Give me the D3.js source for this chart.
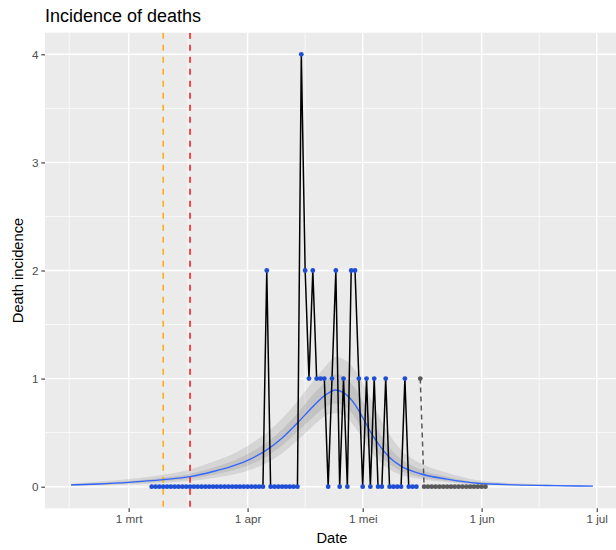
<!DOCTYPE html>
<html>
<head>
<meta charset="utf-8">
<script src="https://cdn.jsdelivr.net/npm/d3@7"></script>
<style>
  body { margin: 0; background: #fff; }
  svg { display: block; font-family: "Liberation Sans", Arial, sans-serif; }
</style>
</head>
<body>
<div id="chart"></div>
<script>
// daily deaths, one value per day from the start date
const observedStart = "2020-03-07";
const observedDeaths = [
  0,0,0,0,0,0,0,0,0,0,0,0,0,0,0,0,0,0,0,0,0,0,0,0,0,     // 7-31 mrt
  0,0,0,0,0,2,0,0,0,0,0,0,0,0,                           // 1-14 apr
  4,2,1,2,1,1,1,0,1,2,0,1,0,2,2,1,                       // 15-30 apr
  0,1,0,1,0,0,1,0,0,0,0,1,0,0,0                          // 1-15 mei
];
const projectedStart = "2020-05-16";
const projectedDeaths = [1,0,0,0,0,0,0,0,0,0,0,0,0,0,0,0,0,0];

// fitted curve with inner and outer bands
const fitDates = ["2020-02-15","2020-02-22","2020-03-01","2020-03-10","2020-03-17","2020-03-23",
  "2020-03-28","2020-04-02","2020-04-06","2020-04-10","2020-04-14","2020-04-18","2020-04-21",
  "2020-04-24","2020-04-26","2020-04-29","2020-05-01","2020-05-03","2020-05-05","2020-05-08",
  "2020-05-11","2020-05-16","2020-05-23","2020-05-31","2020-06-10","2020-06-20","2020-06-30"];
const fitMid     = [0.016,0.025,0.04,0.065,0.093,0.14,0.19,0.26,0.34,0.45,0.59,0.74,0.84,0.895,0.87,0.76,0.64,0.51,0.40,0.27,0.19,0.12,0.07,0.032,0.017,0.01,0.005];
const fitInnerLo = [0.011,0.018,0.03,0.05,0.073,0.11,0.15,0.21,0.28,0.38,0.51,0.64,0.73,0.77,0.75,0.64,0.52,0.41,0.31,0.21,0.145,0.09,0.053,0.024,0.013,0.007,0.004];
const fitInnerHi = [0.022,0.033,0.052,0.083,0.118,0.175,0.235,0.32,0.41,0.53,0.68,0.85,0.96,1.04,1.02,0.91,0.79,0.65,0.52,0.36,0.255,0.16,0.093,0.043,0.023,0.013,0.007];
const fitOuterLo = [0.007,0.012,0.02,0.035,0.052,0.08,0.11,0.16,0.22,0.31,0.43,0.56,0.65,0.68,0.66,0.55,0.44,0.33,0.25,0.16,0.11,0.07,0.04,0.018,0.009,0.005,0.002];
const fitOuterHi = [0.03,0.045,0.07,0.11,0.16,0.23,0.3,0.4,0.5,0.63,0.79,0.97,1.1,1.2,1.18,1.08,0.96,0.82,0.67,0.48,0.34,0.22,0.13,0.06,0.032,0.019,0.01];

const markerDates = ["2020-03-10", "2020-03-17"];
const markerColors = ["#FFA500", "#FF0000"];

const xTickDates = ["2020-03-01","2020-04-01","2020-05-01","2020-06-01","2020-07-01"];
const xTickLabels = ["1 mrt","1 apr","1 mei","1 jun","1 jul"];
const xMinorDates = ["2020-02-14T12:00","2020-03-16T12:00","2020-04-16T00:00","2020-05-16T12:00","2020-06-16T00:00"];
const yTicks = [0, 1, 2, 3, 4];
const yMinor = [0.5, 1.5, 2.5, 3.5];

const width = 616, height = 550;
const panel = { left: 45, right: 619, top: 32.7, bottom: 508.3 };

const parse = d3.utcParse("%Y-%m-%d");
const parseT = d3.utcParse("%Y-%m-%dT%H:%M");

const observed = observedDeaths.map((v, i) => ({ date: d3.utcDay.offset(parse(observedStart), i), v }));
const projected = projectedDeaths.map((v, i) => ({ date: d3.utcDay.offset(parse(projectedStart), i), v }));
const fit = fitDates.map((d, i) => ({
  date: parse(d), mid: fitMid[i],
  iLo: fitInnerLo[i], iHi: fitInnerHi[i], oLo: fitOuterLo[i], oHi: fitOuterHi[i]
}));

// ggplot style 5% expansion
const xExt = d3.extent(fit, d => d.date);
const xPad = (xExt[1] - xExt[0]) * 0.05;
const x = d3.scaleUtc()
  .domain([new Date(+xExt[0] - xPad), new Date(+xExt[1] + xPad)])
  .range([panel.left, panel.right]);
const y = d3.scaleLinear()
  .domain([-0.2, 4.2])
  .range([panel.bottom, panel.top]);

const svg = d3.select("#chart").append("svg")
  .attr("width", width)
  .attr("height", height);

svg.append("defs").append("clipPath").attr("id", "clip")
  .append("rect")
  .attr("x", panel.left).attr("y", panel.top)
  .attr("width", panel.right - panel.left).attr("height", panel.bottom - panel.top);

svg.append("rect")
  .attr("x", panel.left).attr("y", panel.top)
  .attr("width", panel.right - panel.left).attr("height", panel.bottom - panel.top)
  .attr("fill", "#EBEBEB");

const g = svg.append("g").attr("clip-path", "url(#clip)");

// grid
g.selectAll(".ymin").data(yMinor).enter().append("line")
  .attr("x1", panel.left).attr("x2", panel.right)
  .attr("y1", d => y(d)).attr("y2", d => y(d))
  .attr("stroke", "#fff").attr("stroke-width", 0.7);
g.selectAll(".xmin").data(xMinorDates).enter().append("line")
  .attr("x1", d => x(parseT(d))).attr("x2", d => x(parseT(d)))
  .attr("y1", panel.top).attr("y2", panel.bottom)
  .attr("stroke", "#fff").attr("stroke-width", 0.7);
g.selectAll(".ymaj").data(yTicks).enter().append("line")
  .attr("x1", panel.left).attr("x2", panel.right)
  .attr("y1", d => y(d)).attr("y2", d => y(d))
  .attr("stroke", "#fff").attr("stroke-width", 1.4);
g.selectAll(".xmaj").data(xTickDates).enter().append("line")
  .attr("x1", d => x(parse(d))).attr("x2", d => x(parse(d)))
  .attr("y1", panel.top).attr("y2", panel.bottom)
  .attr("stroke", "#fff").attr("stroke-width", 1.4);

// bands
const band = (lo, hi) => d3.area()
  .curve(d3.curveMonotoneX)
  .x(d => x(d.date)).y0(d => y(d[lo])).y1(d => y(d[hi]));
g.append("path").datum(fit).attr("d", band("oLo", "oHi"))
  .attr("fill", "#7F7F7F").attr("fill-opacity", 0.2);
g.append("path").datum(fit).attr("d", band("iLo", "iHi"))
  .attr("fill", "#7F7F7F").attr("fill-opacity", 0.2);

// vertical markers
g.selectAll(".marker").data(markerDates).enter().append("line")
  .attr("x1", d => x(parse(d))).attr("x2", d => x(parse(d)))
  .attr("y1", panel.top).attr("y2", panel.bottom)
  .attr("stroke", (d, i) => markerColors[i])
  .attr("stroke-width", 1.4)
  .attr("stroke-dasharray", "6,6");

// fitted curve
g.append("path").datum(fit)
  .attr("d", d3.line().curve(d3.curveMonotoneX).x(d => x(d.date)).y(d => y(d.mid)))
  .attr("fill", "none").attr("stroke", "#3366FF").attr("stroke-width", 1.4);

// observed
const line = d3.line().x(d => x(d.date)).y(d => y(d.v));
g.append("path").datum(observed).attr("d", line)
  .attr("fill", "none").attr("stroke", "#000").attr("stroke-width", 1.5)
  .attr("stroke-linejoin", "round");
g.append("path").datum(projected).attr("d", line)
  .attr("fill", "none").attr("stroke", "#555").attr("stroke-width", 1.5)
  .attr("stroke-dasharray", "5,4");

g.selectAll(".obs").data(observed).enter().append("circle")
  .attr("cx", d => x(d.date)).attr("cy", d => y(d.v)).attr("r", 2.4)
  .attr("fill", "#1F4ED6");
g.selectAll(".proj").data(projected).enter().append("circle")
  .attr("cx", d => x(d.date)).attr("cy", d => y(d.v)).attr("r", 2.4)
  .attr("fill", "#595959");

// axes
const yAxis = svg.append("g").attr("transform", `translate(${panel.left},0)`)
  .call(d3.axisLeft(y).tickValues(yTicks).tickFormat(d3.format("d"))
    .tickSize(3.7).tickPadding(2.9));
const xAxis = svg.append("g").attr("transform", `translate(0,${panel.bottom})`)
  .call(d3.axisBottom(x).tickValues(xTickDates.map(parse))
    .tickFormat((d, i) => xTickLabels[i]).tickSize(3.7).tickPadding(2.9));
[xAxis, yAxis].forEach(a => {
  a.select(".domain").remove();
  a.selectAll(".tick line").attr("stroke", "#333").attr("stroke-width", 1.1);
  a.selectAll(".tick text").attr("fill", "#4D4D4D")
    .style("font-size", "11.7px").style("font-family", "Liberation Sans, Arial, sans-serif");
});

// titles
svg.append("text").attr("x", panel.left).attr("y", 22)
  .attr("fill", "#000").style("font-size", "18px")
  .text("Incidence of deaths");
svg.append("text")
  .attr("x", (panel.left + panel.right) / 2).attr("y", 543)
  .attr("text-anchor", "middle").style("font-size", "14.7px")
  .text("Date");
svg.append("text")
  .attr("transform", `translate(23,${(panel.top + panel.bottom) / 2}) rotate(-90)`)
  .attr("text-anchor", "middle").style("font-size", "14.7px")
  .text("Death incidence");
</script>
</body>
</html>
